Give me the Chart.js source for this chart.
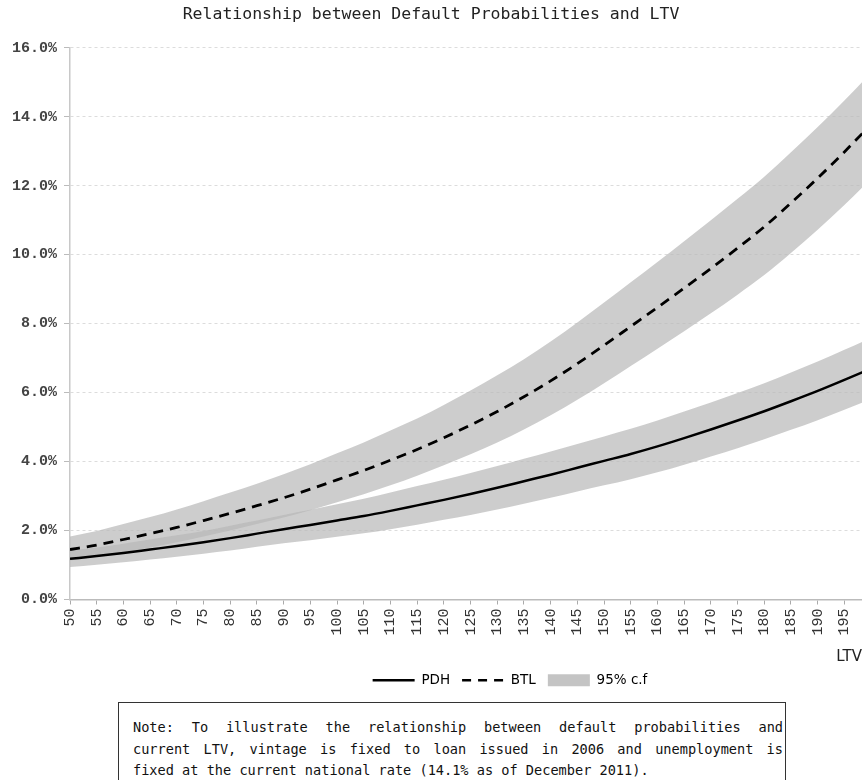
<!DOCTYPE html>
<html>
<head>
<meta charset="utf-8">
<script src="https://cdn.jsdelivr.net/npm/chart.js@4/dist/chart.umd.min.js"></script>
<style>
  body { margin: 0; background: #fff; }
  #wrap { position: relative; width: 862px; height: 697px; }
  #note {
    position: absolute; left: 118px; top: 702px; width: 668px; height: 90px;
    box-sizing: border-box; border: 1px solid #333;
    padding: 14px 2px 0 14px;
    font: 13.6px "DejaVu Sans Mono", monospace; line-height: 21.5px; color: #111;
  }
  #note .j { text-align: justify; text-align-last: justify; }
</style>
</head>
<body>
<div id="wrap"><canvas id="chart"></canvas></div>
<div id="note">
  <div class="j">Note: To illustrate the relationship between default probabilities and</div>
  <div class="j">current LTV, vintage is fixed to loan issued in 2006 and unemployment is</div>
  <div>fixed at the current national rate (14.1% as of December 2011).</div>
</div>
<script>
// ===== Data (default probability, %) =====
const ltv = [50, 55, 60, 65, 70, 75, 80, 85, 90, 95, 100, 105, 110, 115, 120, 125,
  130, 135, 140, 145, 150, 155, 160, 165, 170, 175, 180, 185, 190, 195, 200];

const pdh = [1.18, 1.26, 1.35, 1.45, 1.55, 1.66, 1.78, 1.91, 2.04, 2.16, 2.29, 2.42, 2.57, 2.73, 2.89, 3.06,
  3.24, 3.43, 3.62, 3.82, 4.02, 4.22, 4.44, 4.68, 4.93, 5.19, 5.46, 5.75, 6.05, 6.37, 6.70];
const pdhLow = [0.94, 1.01, 1.08, 1.16, 1.24, 1.33, 1.42, 1.53, 1.63, 1.72, 1.82, 1.92, 2.04, 2.17, 2.31, 2.45,
  2.61, 2.78, 2.95, 3.13, 3.31, 3.49, 3.69, 3.91, 4.15, 4.39, 4.65, 4.92, 5.20, 5.50, 5.81];
const pdhHigh = [1.42, 1.51, 1.62, 1.74, 1.86, 1.99, 2.14, 2.29, 2.45, 2.60, 2.76, 2.92, 3.10, 3.29, 3.47, 3.67,
  3.87, 4.08, 4.29, 4.51, 4.73, 4.95, 5.19, 5.45, 5.71, 5.99, 6.27, 6.58, 6.90, 7.24, 7.59];

const btl = [1.45, 1.58, 1.74, 1.91, 2.09, 2.29, 2.50, 2.72, 2.95, 3.20, 3.47, 3.74, 4.04, 4.35, 4.69, 5.06,
  5.45, 5.88, 6.34, 6.84, 7.37, 7.92, 8.47, 9.03, 9.60, 10.19, 10.81, 11.50, 12.22, 12.98, 13.78];
const btlLow = [1.13, 1.24, 1.37, 1.51, 1.66, 1.83, 2.00, 2.19, 2.38, 2.59, 2.82, 3.05, 3.31, 3.59, 3.89, 4.21,
  4.55, 4.93, 5.34, 5.79, 6.27, 6.77, 7.27, 7.78, 8.30, 8.84, 9.41, 10.05, 10.72, 11.44, 12.20];
const btlHigh = [1.83, 1.99, 2.19, 2.39, 2.61, 2.85, 3.10, 3.36, 3.63, 3.92, 4.24, 4.55, 4.90, 5.25, 5.64, 6.06,
  6.50, 6.97, 7.48, 8.03, 8.61, 9.20, 9.79, 10.39, 11.00, 11.62, 12.26, 12.97, 13.70, 14.47, 15.28];

const xTicks = [50, 55, 60, 65, 70, 75, 80, 85, 90, 95, 100, 105, 110, 115, 120, 125,
  130, 135, 140, 145, 150, 155, 160, 165, 170, 175, 180, 185, 190, 195];
const yTicks = [0, 2, 4, 6, 8, 10, 12, 14, 16];

const bandColor = "rgba(184,184,184,0.7)";
const pts = arr => ltv.map((x, i) => ({ x, y: arr[i] }));

// legend digeser ke kanan, seperti di gambar asli
const shiftLegend = {
  id: "shiftLegend",
  afterLayout(chart) {
    const dx = 79;
    chart.legend.left += dx;
    chart.legend.right += dx;
  }
};

const line = { pointRadius: 0, cubicInterpolationMode: "monotone", fill: false };
const band = { pointRadius: 0, cubicInterpolationMode: "monotone", borderColor: "rgba(0,0,0,0)", borderWidth: 1 };

new Chart(document.getElementById("chart"), {
  type: "line",
  data: {
    datasets: [
      { ...line, label: "PDH", data: pts(pdh), borderColor: "#000", borderWidth: 2.5 },
      { ...line, label: "BTL", data: pts(btl), borderColor: "#000", borderWidth: 2.8, borderDash: [10, 7] },
      { ...band, label: "pdhLow", data: pts(pdhLow), fill: false },
      { ...band, label: "pdhHigh", data: pts(pdhHigh), fill: "-1", backgroundColor: bandColor },
      { ...band, label: "btlLow", data: pts(btlLow), fill: false },
      { ...band, label: "btlHigh", data: pts(btlHigh), fill: "-1", backgroundColor: bandColor }
    ]
  },
  options: {
    responsive: true,
    maintainAspectRatio: false,
    animation: false,
    layout: { padding: 0 },
    plugins: {
      title: {
        display: true,
        text: "Relationship between Default Probabilities and LTV",
        color: "#222",
        font: { family: "DejaVu Sans Mono", size: 16.5, weight: "normal" },
        padding: { top: 5, bottom: 23 }
      },
      legend: {
        position: "bottom",
        labels: {
          usePointStyle: true,
          pointStyleWidth: 42,
          boxHeight: 12,
          padding: 12,
          color: "#222",
          font: { family: "DejaVu Sans", size: 13.5 },
          generateLabels: () => [
            { text: "PDH", pointStyle: "line", strokeStyle: "#000", fillStyle: "#000", lineWidth: 2.5, lineDash: [], hidden: false, datasetIndex: 0 },
            { text: "BTL", pointStyle: "line", strokeStyle: "#000", fillStyle: "#000", lineWidth: 2.5, lineDash: [9, 7], hidden: false, datasetIndex: 1 },
            { text: "95% c.f", pointStyle: "rect", strokeStyle: "#c4c4c4", fillStyle: "#c4c4c4", lineWidth: 0, hidden: false, datasetIndex: 3 }
          ]
        }
      },
      tooltip: { enabled: false }
    },
    scales: {
      x: {
        type: "linear",
        min: 50,
        max: 198.3,
        afterBuildTicks: s => { s.ticks = xTicks.map(v => ({ value: v })); },
        afterFit: s => { s.height = 62; s.paddingRight = 0; },
        ticks: {
          autoSkip: false, minRotation: 90, maxRotation: 90, padding: 4,
          color: "#333",
          font: { family: "Liberation Mono", size: 15 }
        },
        grid: { drawOnChartArea: false, drawTicks: true, tickLength: 5, color: "#aaa" },
        border: { display: true, color: "#bbb", width: 1.5 },
        title: {
          display: true, text: "LTV", align: "end", color: "#222",
          font: { family: "DejaVu Sans", size: 15 },
          padding: { top: 0, bottom: -5 }
        }
      },
      y: {
        min: 0,
        max: 16,
        afterBuildTicks: s => { s.ticks = yTicks.map(v => ({ value: v })); },
        afterFit: s => { s.width = 70; },
        ticks: {
          padding: 7,
          color: "#444",
          font: { family: "Liberation Mono", size: 15, weight: "bold" },
          callback: v => v.toFixed(1) + "%"
        },
        grid: { color: "#dcdcdc", tickLength: 6, tickColor: "#bbb" },
        border: { display: true, color: "#c8c8c8", width: 1.5, dash: [3, 3] }
      }
    }
  },
  plugins: [shiftLegend]
});
</script>
</body>
</html>
